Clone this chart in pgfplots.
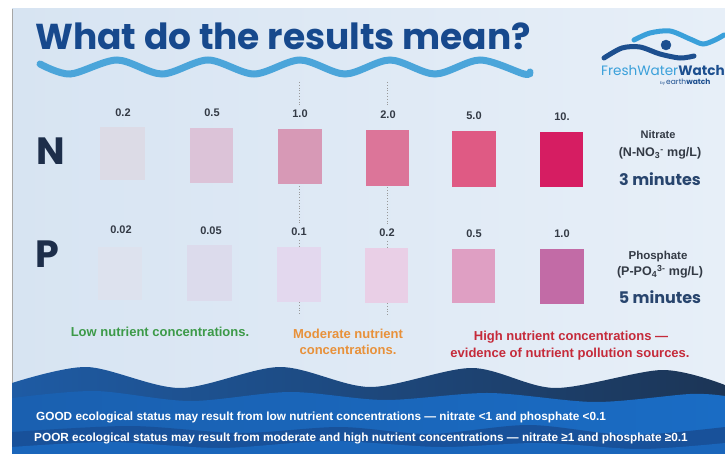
\documentclass[border=0pt]{standalone}
\usepackage{fontspec}
\setmainfont{Liberation Sans}
\newfontfamily\popp{Poppins}
\usepackage{pgfplots}
\pgfplotsset{compat=1.18}

\definecolor{cardL}{HTML}{D7E4F2}
\definecolor{cardR}{HTML}{E7EFF8}
\definecolor{titleblue}{HTML}{17498D}
\definecolor{wavelight}{HTML}{4BA5DA}
\definecolor{navy}{HTML}{1D2E4A}
\definecolor{lab}{HTML}{333A45}
\definecolor{minblue}{HTML}{28456E}
\definecolor{lowgreen}{HTML}{3C9A48}
\definecolor{modorange}{HTML}{E8913A}
\definecolor{highred}{HTML}{C52A3A}
\definecolor{logodark}{HTML}{1D4F8F}
\definecolor{logolight}{HTML}{3AA0DA}
\definecolor{seaA}{HTML}{1E5BA4}
\definecolor{seaAr}{HTML}{1C3556}
\definecolor{seaB}{HTML}{1A60B0}
\definecolor{seaBr}{HTML}{1A6CC4}
\definecolor{seaC}{HTML}{18519A}
\definecolor{seaD}{HTML}{1A66BB}
% swatch colours, nitrate row
\definecolor{nA}{HTML}{DCDBE6}
\definecolor{nB}{HTML}{DCC3D8}
\definecolor{nC}{HTML}{D799B6}
\definecolor{nD}{HTML}{DC7599}
\definecolor{nE}{HTML}{DF5A84}
\definecolor{nF}{HTML}{D61D62}
% phosphate row
\definecolor{pA}{HTML}{DDE2EE}
\definecolor{pB}{HTML}{DCDBEC}
\definecolor{pC}{HTML}{E3D8EE}
\definecolor{pD}{HTML}{E9CFE6}
\definecolor{pE}{HTML}{DF9FC3}
\definecolor{pF}{HTML}{C26BA6}

\newcommand{\fs}[1]{\fontsize{#1}{#1}\selectfont}
% x0 x1 y0 y1 colour
\newcommand{\swatch}[5]{\addplot[draw=none, fill=#5] coordinates {(#1,#3) (#2,#3) (#2,#4) (#1,#4)} -- cycle;}
% dotted guide piece at x from y0 to y1
\newcommand{\guide}[3]{\addplot[color=black!40, dotted, line width=0.8pt] coordinates {(#1,#2) (#1,#3)};}

\begin{document}
\begin{tikzpicture}
\begin{axis}[
  x=1pt, y=1pt,
  xmin=0, xmax=725, ymin=0, ymax=454,
  y dir=reverse,
  hide axis,
  clip=true,
]
% page and card
\addplot[draw=none, fill=white] coordinates {(0,0) (725,0) (725,454) (0,454)} -- cycle;
\addplot[draw=none, left color=cardL, right color=cardR] coordinates {(12,9) (725,9) (725,454) (12,454)} -- cycle;
\addplot[color=black!35, line width=0.8pt] coordinates {(12,9) (12,454)};

% title and its wave
\node[anchor=base west, inner sep=0, text=titleblue, font=\popp\bfseries\fs{36}] at (35,50) {What do the results mean?};
\addplot[color=wavelight, line width=7pt, smooth, line cap=round] coordinates {
  (40,64) (70,74) (117,60) (162,74) (208,60) (254,74) (300,60) (345,74) (390,60) (435,74) (480,60) (524,74) (530,72)};

% logo
\addplot[color=logodark, line width=5pt, smooth, line cap=round] coordinates {(604,58) (622,48) (640,47) (660,54) (680,58) (694,56)};
\addplot[color=logolight, line width=5pt, smooth, line cap=round] coordinates {(634,40) (650,33) (670,31) (690,39) (703,44) (715,40) (724,35)};
\addplot[only marks, mark=*, mark size=5pt, color=logodark] coordinates {(666,45)};
\node[anchor=base west, inner sep=0, font=\popp\fs{13.6}] at (601,76) {\textcolor{logolight}{FreshWater}\textcolor{logodark}{\bfseries Watch}};
\node[anchor=base west, inner sep=0, font=\popp\fs{7.5}, text=logodark] at (660,85) {{\fs{4}by }earth\textbf{watch}};

% dotted guides between low / moderate / high, broken at the labels
\guide{299}{82}{106}
\guide{299}{186}{224}
\guide{299}{240}{247}
\guide{299}{302}{315}
\guide{387}{82}{107}
\guide{387}{187}{225}
\guide{387}{241}{248}
\guide{387}{303}{315}

% nitrate swatches
\swatch{100}{145}{127}{180}{nA}
\swatch{190}{233}{128}{183}{nB}
\swatch{278}{322}{129}{184}{nC}
\swatch{366}{409}{130}{186}{nD}
\swatch{452}{496}{131}{187}{nE}
\swatch{540}{583}{132}{187}{nF}
% phosphate swatches
\swatch{98}{142}{247}{300}{pA}
\swatch{187}{232}{245}{301}{pB}
\swatch{277}{321}{247}{302}{pC}
\swatch{365}{408}{248}{303}{pD}
\swatch{452}{495}{249}{303}{pE}
\swatch{540}{584}{249}{304}{pF}

% concentration labels
\begin{scope}[every node/.style={anchor=base, inner sep=0, text=lab, font=\bfseries\fs{11}}]
\node at (123,117) {0.2};
\node at (212,117) {0.5};
\node at (300,118) {1.0};
\node at (388,119) {2.0};
\node at (474,120) {5.0};
\node at (562,121) {10.};
\node at (121,234) {0.02};
\node at (211,235) {0.05};
\node at (299,236) {0.1};
\node at (387,237) {0.2};
\node at (474,238) {0.5};
\node at (562,238) {1.0};
\end{scope}

% row letters
\node[anchor=base west, inner sep=0, text=navy, font=\popp\bfseries\fs{38}] at (36,165) {N};
\node[anchor=base west, inner sep=0, text=navy, font=\popp\bfseries\fs{38}] at (35,268) {P};

% right hand labels
\node[anchor=base, inner sep=0, text=lab, font=\bfseries\fs{11}] at (658,139) {Nitrate};
\node[anchor=base, inner sep=0, text=lab, font=\bfseries\fs{12.5}] at (660,157) {(N-NO\textsubscript{3}\textsuperscript{-} mg/L)};
\node[anchor=base, inner sep=0, text=lab, font=\bfseries\fs{11.5}] at (658,259) {Phosphate};
\node[anchor=base, inner sep=0, text=lab, font=\bfseries\fs{12.5}] at (660,276) {(P-PO\textsubscript{4}\textsuperscript{3-} mg/L)};
\node[anchor=base, inner sep=0, text=minblue, font=\popp\bfseries\fs{16}] at (660,186) {3 minutes};
\node[anchor=base, inner sep=0, text=minblue, font=\popp\bfseries\fs{16}] at (660,303) {5 minutes};

% category notes
\begin{scope}[every node/.style={anchor=base, inner sep=0, font=\bfseries\fs{13}}]
\node[text=lowgreen] at (160,336) {Low nutrient concentrations.};
\node[text=modorange] at (348,338) {Moderate nutrient};
\node[text=modorange] at (348,354) {concentrations.};
\node[text=highred] at (571,340) {High nutrient concentrations ---};
\node[text=highred] at (570,357) {evidence of nutrient pollution sources.};
\end{scope}

% sea bands at the foot
\addplot[draw=none, left color=seaA, right color=seaAr, smooth] coordinates {
  (12,383) (87,367) (180,388) (280,367) (370,387) (472,368) (555,388) (662,370) (725,385)} -- (725,454) -- (12,454) -- cycle;
\addplot[draw=none, left color=seaB, right color=seaBr, smooth] coordinates {
  (12,398) (95,391) (190,401) (290,392) (385,400) (489,393) (595,402) (690,394) (725,396)} -- (725,454) -- (12,454) -- cycle;
\addplot[draw=none, fill=seaC, smooth] coordinates {
  (12,432) (130,426) (240,433) (340,427) (430,434) (529,425) (629,435) (725,427)} -- (725,454) -- (12,454) -- cycle;
\addplot[draw=none, fill=seaD, smooth] coordinates {
  (12,447) (110,442) (220,448) (330,441) (440,447) (540,443) (640,449) (725,443)} -- (725,454) -- (12,454) -- cycle;

\node[anchor=base west, inner sep=0, text=white, font=\bfseries\fs{11.8}] at (36,420) {GOOD ecological status may result from low nutrient concentrations --- nitrate <1 and phosphate <0.1};
\node[anchor=base west, inner sep=0, text=white, font=\bfseries\fs{11.8}] at (34,441) {POOR ecological status may result from moderate and high nutrient concentrations --- nitrate ≥1 and phosphate ≥0.1};
\end{axis}
\pgfresetboundingbox
\path[use as bounding box] (0,0) rectangle (725pt,454pt);
\end{tikzpicture}
\end{document}
